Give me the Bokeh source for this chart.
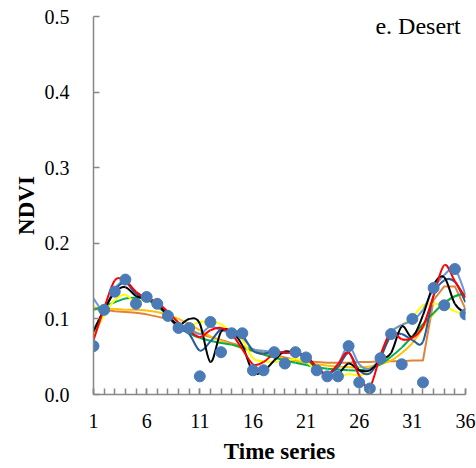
from bokeh.plotting import figure
from bokeh.models import FixedTicker, PrintfTickFormatter, Label, Range1d
from bokeh.embed import file_html
from bokeh.resources import INLINE

# ---- data ----
t = list(range(1, 37))
x_ticks = [1, 6, 11, 16, 21, 26, 31, 36]
y_ticks = [0.0, 0.1, 0.2, 0.3, 0.4, 0.5]

observed = [0.064, 0.112, 0.136, 0.152, 0.120, 0.129, 0.120, 0.104, 0.088, 0.088,
            0.024, 0.096, 0.056, 0.081, 0.081, 0.032, 0.032, 0.056, 0.041, 0.056,
            0.049, 0.032, 0.024, 0.024, 0.064, 0.016, 0.008, 0.048, 0.080, 0.040,
            0.100, 0.016, 0.141, 0.118, 0.166, 0.106]

brown_fit = [0.113, 0.112, 0.110, 0.109, 0.108, 0.106, 0.103, 0.100, 0.093, 0.086,
             0.080, 0.076, 0.072, 0.068, 0.064, 0.060, 0.056, 0.052, 0.049, 0.046,
             0.044, 0.043, 0.042, 0.042, 0.042, 0.043, 0.043, 0.044, 0.044, 0.044,
             0.045, 0.045, 0.125, 0.143, 0.143, 0.113]

gold_fit = [0.115, 0.114, 0.113, 0.112, 0.112, 0.111, 0.109, 0.106, 0.100, 0.093,
            0.085, 0.077, 0.071, 0.066, 0.061, 0.057, 0.053, 0.050, 0.047, 0.044,
            0.042, 0.040, 0.038, 0.037, 0.036, 0.036, 0.037, 0.040, 0.045, 0.055,
            0.068, 0.088, 0.107, 0.121, 0.130, 0.133]

green_fit = [0.112, 0.117, 0.122, 0.127, 0.128, 0.126, 0.116, 0.105, 0.090, 0.081,
             0.075, 0.071, 0.068, 0.066, 0.062, 0.058, 0.053, 0.049, 0.045, 0.042,
             0.039, 0.036, 0.034, 0.033, 0.032, 0.032, 0.034, 0.040, 0.050, 0.062,
             0.077, 0.093, 0.108, 0.121, 0.130, 0.134]

yellow_fit = [0.078, 0.105, 0.125, 0.132, 0.121, 0.127, 0.120, 0.104, 0.089, 0.090,
              0.096, 0.096, 0.093, 0.082, 0.072, 0.048, 0.044, 0.043, 0.045, 0.047,
              0.043, 0.032, 0.025, 0.023, 0.027, 0.025, 0.032, 0.047, 0.082, 0.092,
              0.102, 0.118, 0.120, 0.118, 0.110, 0.107]

lightblue_fit = [0.127, 0.112, 0.140, 0.150, 0.135, 0.128, 0.121, 0.104, 0.088, 0.085,
                 0.080, 0.090, 0.085, 0.081, 0.075, 0.060, 0.058, 0.056, 0.055, 0.056,
                 0.049, 0.034, 0.026, 0.040, 0.064, 0.040, 0.034, 0.050, 0.082, 0.092,
                 0.098, 0.112, 0.140, 0.158, 0.166, 0.132]

darkblue_fit = [0.085, 0.112, 0.138, 0.148, 0.133, 0.128, 0.120, 0.104, 0.088, 0.080,
                0.058, 0.070, 0.086, 0.082, 0.078, 0.058, 0.054, 0.057, 0.055, 0.055,
                0.049, 0.034, 0.027, 0.036, 0.055, 0.032, 0.028, 0.049, 0.078, 0.080,
                0.072, 0.070, 0.131, 0.151, 0.149, 0.122]

black_fit = [0.083, 0.112, 0.135, 0.142, 0.130, 0.127, 0.120, 0.104, 0.092, 0.100,
             0.094, 0.043, 0.083, 0.083, 0.065, 0.030, 0.031, 0.045, 0.057, 0.054,
             0.051, 0.036, 0.025, 0.027, 0.041, 0.032, 0.032, 0.045, 0.055, 0.090,
             0.076, 0.105, 0.145, 0.155, 0.120, 0.107]

red_fit = [0.072, 0.114, 0.151, 0.150, 0.136, 0.127, 0.122, 0.109, 0.095, 0.084,
           0.076, 0.085, 0.088, 0.080, 0.060, 0.040, 0.043, 0.054, 0.056, 0.054,
           0.050, 0.036, 0.027, 0.040, 0.056, 0.025, 0.010, 0.052, 0.083, 0.073,
           0.075, 0.090, 0.131, 0.171, 0.150, 0.128]

title_text = "e. Desert"

SERIF = "Liberation Serif"
AXIS_COLOR = "#878787"


def smooth_line(p, xs, ys, color, width=2.0):
    """Excel-style smoothed line drawn with Bokeh's bezier glyph."""
    n = len(xs)
    x0, y0, x1, y1, cx0, cy0, cx1, cy1 = ([] for _ in range(8))
    for i in range(n - 1):
        xa, ya = xs[max(i - 1, 0)], ys[max(i - 1, 0)]
        xb, yb = xs[i], ys[i]
        xc, yc = xs[i + 1], ys[i + 1]
        xd, yd = xs[min(i + 2, n - 1)], ys[min(i + 2, n - 1)]
        x0.append(xb); y0.append(yb); x1.append(xc); y1.append(yc)
        cx0.append(xb + (xc - xa) / 6.0); cy0.append(yb + (yc - ya) / 6.0)
        cx1.append(xc - (xd - xb) / 6.0); cy1.append(yc - (yd - yb) / 6.0)
    p.bezier(x0=x0, y0=y0, x1=x1, y1=y1, cx0=cx0, cy0=cy0, cx1=cx1, cy1=cy1,
             line_color=color, line_width=width)


p = figure(frame_width=372, frame_height=378, output_backend="svg",
           toolbar_location=None, x_range=Range1d(1, 36), y_range=Range1d(0, 0.5),
           min_border_left=93, min_border_right=11, min_border_top=16,
           min_border_bottom=72)
p.outline_line_color = None
p.xgrid.visible = False
p.ygrid.visible = False
p.background_fill_color = "white"
p.border_fill_color = "white"

# curves
p.line(t, brown_fit, line_color="#e0843a", line_width=2)
smooth_line(p, t, gold_fit, "#ffc000")
smooth_line(p, t, green_fit, "#00b050")
smooth_line(p, t, yellow_fit, "#ffff00")
smooth_line(p, t, lightblue_fit, "#6a98d4")
smooth_line(p, t, darkblue_fit, "#245a9e")
smooth_line(p, t, black_fit, "#000000")
smooth_line(p, t, red_fit, "#ff0000")

p.scatter(t, observed, size=11, fill_color="#4a7bb7", line_color="#4a7bb7")

# axes
p.xaxis.ticker = FixedTicker(ticks=x_ticks, minor_ticks=t)
p.yaxis.ticker = FixedTicker(ticks=y_ticks, minor_ticks=[])
p.yaxis.formatter = PrintfTickFormatter(format="%.1f")

for ax in (p.xaxis[0], p.yaxis[0]):
    ax.axis_line_color = AXIS_COLOR
    ax.axis_line_width = 1.5
    ax.major_tick_line_color = AXIS_COLOR
    ax.minor_tick_line_color = AXIS_COLOR
    ax.major_tick_line_width = 1.5
    ax.minor_tick_line_width = 1.5
    ax.major_tick_out = 0
    ax.minor_tick_out = 0
    ax.major_tick_in = 6
    ax.minor_tick_in = 6
    ax.major_label_text_font = SERIF
    ax.major_label_text_font_size = "20px"
    ax.major_label_text_color = "black"
    ax.axis_label_text_font = SERIF
    ax.axis_label_text_font_size = "23px"
    ax.axis_label_text_font_style = "bold"
    ax.axis_label_text_color = "black"

p.yaxis.minor_tick_in = 0
p.xaxis.axis_label = "Time series"
p.yaxis.axis_label = "NDVI"
p.xaxis.major_label_standoff = 19
p.yaxis.major_label_standoff = 24
p.xaxis.axis_label_standoff = 8
p.yaxis.axis_label_standoff = 3

title = Label(x=35.55, y=0.487, text=title_text, text_font=SERIF,
              text_font_size="24px", text_align="right",
              text_baseline="alphabetic", text_color="black")
p.add_layout(title)

open("out.html", "w").write(file_html(p, INLINE))
